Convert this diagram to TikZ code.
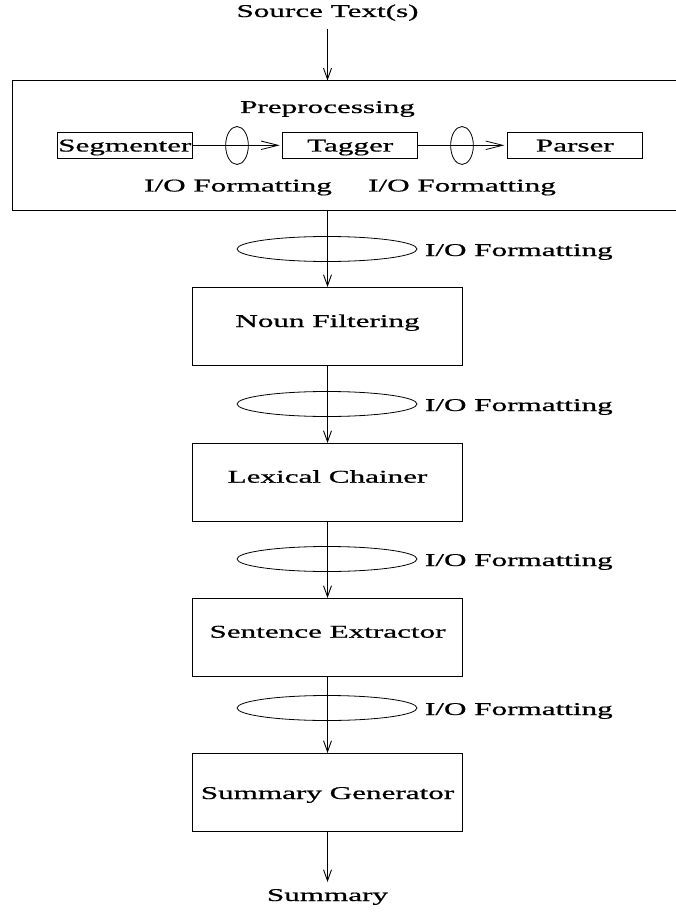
\documentclass[tikz,border=0pt]{standalone}
\usepackage{fontspec}
\setmainfont{Liberation Serif}
\newfontfamily\figfont[FakeBold=0.6]{Liberation Serif}
\usepackage{graphicx}
\usetikzlibrary{arrows.meta,shapes.geometric}
\newcommand{\hs}[1]{\scalebox{1.73}[1]{#1}}
\begin{document}
\begin{tikzpicture}[x=1pt,y=-1pt,
  every node/.style={inner sep=0pt, outer sep=0pt},
  lbl/.style={font=\figfont\fontsize{18}{21}\selectfont, anchor=base},
  iolbl/.style={font=\figfont\fontsize{18}{21}\selectfont, anchor=base west},
  stage/.style={draw, line width=0.9pt, minimum width=270pt, minimum height=78pt},
  sub/.style={draw, line width=0.9pt, minimum width=135pt, minimum height=26pt},
  fmtbig/.style={draw, ellipse, line width=0.8pt, minimum width=180pt, minimum height=25pt},
  fmtsmall/.style={draw, ellipse, line width=0.8pt, minimum width=22.7pt, minimum height=38pt},
  varr/.style={line width=0.9pt, -{Straight Barb[length=11pt,width=8pt]}},
  harr/.style={line width=0.8pt, -{Straight Barb[length=17pt,width=8.5pt]}, shorten >=3pt},
]
\clip (0,0) rectangle (676,917);
\fill[white] (0,0) rectangle (676,917);

% source
\node[lbl] (src) at (327.5,17) {\hs{Source Text(s)}};
\coordinate (srcbot) at (327.5,29);

% preprocessing block
\node[draw, line width=0.9pt, minimum width=677.3pt, minimum height=129.5pt] (pre) at (351.35,145.25) {};
\node[lbl] (pretitle) at (327.5,113) {\hs{Preprocessing}};
\node[sub] (seg) at (124.8,145.3) {};
\node[lbl] (segt) at (124.8,151.5) {\hs{Segmenter}};
\node[sub] (tag) at (350.2,145.3) {};
\node[lbl] (tagt) at (350.2,151.5) {\hs{Tagger}};
\node[sub] (par) at (574.85,145.3) {};
\node[lbl] (part) at (574.85,151.5) {\hs{Parser}};
\draw[harr] (seg.east) -- (tag.west);
\draw[harr] (tag.east) -- (par.west);
\node[fmtsmall] (e1) at (237,145.5) {};
\node[fmtsmall] (e2) at (462,145.5) {};
\node[lbl] (io1) at (238,191.5) {\hs{I/O Formatting}};
\node[lbl] (io2) at (462,191.5) {\hs{I/O Formatting}};

% stages
\node[stage] (noun) at (327.5,326) {};
\node[lbl] (nount) at (327.5,327) {\hs{Noun Filtering}};
\node[stage] (lex) at (327.5,482) {};
\node[lbl] (lext) at (327.5,482.7) {\hs{Lexical Chainer}};
\node[stage] (sent) at (327.5,637) {};
\node[lbl] (sentt) at (327.5,637.7) {\hs{Sentence Extractor}};
\node[stage] (sum) at (327.5,792) {};
\node[lbl] (sumt) at (327.5,799) {\hs{Summary Generator}};
\coordinate (out) at (327.5,882);
\node[lbl] (summ) at (327.5,901) {\hs{Summary}};

% arrows
\draw[varr] (srcbot) -- (pre.north -| src);
\draw[varr] (pre.south -| noun.north) -- (noun.north);
\draw[varr] (noun.south) -- (lex.north);
\draw[varr] (lex.south) -- (sent.north);
\draw[varr] (sent.south) -- (sum.north);
\draw[varr] (sum.south) -- (out);

% I/O formatting ellipses
\node[fmtbig] (f1) at (327,249) {};
\node[iolbl] (f1t) at (425,256) {\hs{I/O Formatting}};
\node[fmtbig] (f2) at (327,404) {};
\node[iolbl] (f2t) at (425,411) {\hs{I/O Formatting}};
\node[fmtbig] (f3) at (327,559) {};
\node[iolbl] (f3t) at (425,566) {\hs{I/O Formatting}};
\node[fmtbig] (f4) at (327,708) {};
\node[iolbl] (f4t) at (425,715) {\hs{I/O Formatting}};
\end{tikzpicture}
\end{document}
